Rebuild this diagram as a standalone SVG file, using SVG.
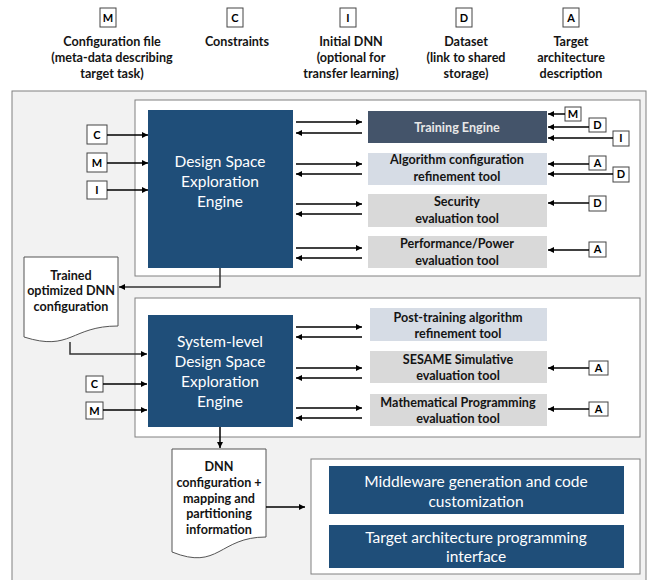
<svg xmlns="http://www.w3.org/2000/svg" width="648" height="580" viewBox="0 0 648 580">
<defs>
<marker id="ah" viewBox="0 0 10 10" refX="10" refY="5" markerWidth="7" markerHeight="6" markerUnits="userSpaceOnUse" orient="auto"><path d="M0,0 L10,5 L0,10 Z" fill="#000"/></marker>
</defs>
<style>
.t{font-family:Lato,"Open Sans",sans-serif;font-weight:bold;font-size:12.6px;fill:#141414;text-anchor:middle}
.k{font-family:Lato,"Open Sans",sans-serif;font-weight:bold;font-size:11px;fill:#000;text-anchor:middle}
.w{font-family:Lato,"Open Sans",sans-serif;font-size:15.5px;fill:#fff;text-anchor:middle}
.lb{fill:#fff;stroke:#444;stroke-width:1}
.panel{fill:#fff;stroke:#808080;stroke-width:1}
.eng{fill:#1F4E79}
.lblue{fill:#D6DCE5}
.gray{fill:#D9D9D9}
.c{stroke:#000;stroke-width:1.5;fill:none;marker-end:url(#ah)}
.doc{fill:#fff;stroke:#555;stroke-width:1}
</style>
<rect width="648" height="580" fill="#fff"/>
<!-- legend -->
<g id="legend-M"><rect class="lb" x="100" y="8" width="16" height="19"/><text class="k" x="108" y="22">M</text>
<text class="t" x="112" y="46">Configuration file</text><text class="t" x="112" y="62">(meta-data describing</text><text class="t" x="112" y="78">target task)</text></g>
<g id="legend-C"><rect class="lb" x="227" y="8" width="16" height="19"/><text class="k" x="235" y="22">C</text>
<text class="t" x="237" y="46">Constraints</text></g>
<g id="legend-I"><rect class="lb" x="340" y="8" width="16" height="19"/><text class="k" x="348" y="22">I</text>
<text class="t" x="351" y="46">Initial DNN</text><text class="t" x="351" y="62">(optional for</text><text class="t" x="351" y="78">transfer learning)</text></g>
<g id="legend-D"><rect class="lb" x="456" y="8" width="16" height="19"/><text class="k" x="464" y="22">D</text>
<text class="t" x="466" y="46">Dataset</text><text class="t" x="466" y="62">(link to shared</text><text class="t" x="466" y="78">storage)</text></g>
<g id="legend-A"><rect class="lb" x="563" y="8" width="16" height="19"/><text class="k" x="571" y="22">A</text>
<text class="t" x="571" y="46">Target</text><text class="t" x="571" y="62">architecture</text><text class="t" x="571" y="78">description</text></g>
<!-- panels -->
<rect id="outer-panel" x="12" y="91" width="634" height="490" fill="#F2F2F2" stroke="#808080" stroke-width="1"/>
<rect id="upper-panel" class="panel" x="135" y="100" width="505" height="176"/>
<rect id="lower-panel" class="panel" x="135" y="298" width="505" height="139"/>
<rect id="bottom-panel" class="panel" x="311" y="459" width="329" height="115"/>
<!-- upper engine -->
<g id="dse"><rect class="eng" x="148" y="110" width="145" height="158"/>
<text class="w" x="220" y="167">Design Space</text><text class="w" x="220" y="187">Exploration</text><text class="w" x="220" y="207">Engine</text></g>
<g id="training"><rect x="368" y="111" width="179" height="32" fill="#44546A"/><text class="t" x="457" y="132" style="fill:#E8E8E8">Training Engine</text></g>
<g id="algo"><rect class="lblue" x="368" y="153" width="179" height="32"/><text class="t" x="457" y="164">Algorithm configuration</text><text class="t" x="457" y="181">refinement tool</text></g>
<g id="security"><rect class="gray" x="368" y="194" width="179" height="33"/><text class="t" x="457" y="206">Security</text><text class="t" x="457" y="223">evaluation tool</text></g>
<g id="perf"><rect class="gray" x="368" y="236" width="179" height="32"/><text class="t" x="457" y="248">Performance/Power</text><text class="t" x="457" y="265">evaluation tool</text></g>
<!-- upper inputs left -->
<g id="in-C1"><rect class="lb" x="87" y="125" width="20" height="19"/><text class="k" x="97" y="139">C</text></g>
<g id="in-M1"><rect class="lb" x="87" y="153" width="20" height="19"/><text class="k" x="97" y="167">M</text></g>
<g id="in-I1"><rect class="lb" x="87" y="181" width="20" height="18"/><text class="k" x="97" y="194">I</text></g>
<!-- upper inputs right -->
<g id="in-M2"><rect class="lb" x="565" y="107" width="16" height="14"/><text class="k" x="573" y="118">M</text></g>
<g id="in-D1"><rect class="lb" x="589" y="118" width="17" height="14"/><text class="k" x="597.5" y="129">D</text></g>
<g id="in-I2"><rect class="lb" x="613" y="131" width="16" height="15"/><text class="k" x="621" y="142">I</text></g>
<g id="in-A1"><rect class="lb" x="589" y="156" width="17" height="14"/><text class="k" x="597.5" y="167">A</text></g>
<g id="in-D2"><rect class="lb" x="613" y="167" width="16" height="15"/><text class="k" x="621" y="178">D</text></g>
<g id="in-D3"><rect class="lb" x="589" y="196" width="17" height="15"/><text class="k" x="597.5" y="207">D</text></g>
<g id="in-A2"><rect class="lb" x="589" y="242" width="17" height="15"/><text class="k" x="597.5" y="253">A</text></g>
<!-- trained doc -->
<g id="trained"><path class="doc" d="M24,257 H118 V326 C71,326 71,352 24,337 Z"/>
<text class="t" x="71" y="280">Trained</text><text class="t" x="71" y="295">optimized DNN</text><text class="t" x="71" y="311">configuration</text></g>
<!-- lower engine -->
<g id="sdse"><rect class="eng" x="148" y="315" width="145" height="112"/>
<text class="w" x="220" y="347">System-level</text><text class="w" x="220" y="367">Design Space</text><text class="w" x="220" y="387">Exploration</text><text class="w" x="220" y="407">Engine</text></g>
<g id="post"><rect class="lblue" x="370" y="308" width="177" height="33"/><text class="t" x="458" y="322">Post-training algorithm</text><text class="t" x="458" y="338">refinement tool</text></g>
<g id="sesame"><rect class="gray" x="370" y="351" width="177" height="32"/><text class="t" x="458" y="364">SESAME Simulative</text><text class="t" x="458" y="380">evaluation tool</text></g>
<g id="math"><rect class="gray" x="370" y="394" width="177" height="32"/><text class="t" x="458" y="407">Mathematical Programming</text><text class="t" x="458" y="423">evaluation tool</text></g>
<g id="in-C3"><rect class="lb" x="86" y="376" width="17" height="16"/><text class="k" x="94.5" y="388">C</text></g>
<g id="in-M3"><rect class="lb" x="86" y="402" width="17" height="17"/><text class="k" x="94.5" y="415">M</text></g>
<g id="in-A3"><rect class="lb" x="589" y="361" width="19" height="14"/><text class="k" x="598.5" y="372">A</text></g>
<g id="in-A4"><rect class="lb" x="589" y="402" width="19" height="14"/><text class="k" x="598.5" y="413">A</text></g>
<!-- doc2 -->
<g id="dnnconf"><path class="doc" d="M172,449 H266 V537 C219,537 219,571 172,552 Z"/>
<text class="t" x="219" y="471">DNN</text><text class="t" x="219" y="487">configuration +</text><text class="t" x="219" y="503">mapping and</text><text class="t" x="219" y="518">partitioning</text><text class="t" x="219" y="534">information</text></g>
<g id="middleware"><rect class="eng" x="329" y="466" width="295" height="48"/><text class="w" x="476" y="487">Middleware generation and code</text><text class="w" x="476" y="507">customization</text></g>
<g id="tapi"><rect class="eng" x="329" y="525" width="295" height="43"/><text class="w" x="476" y="543">Target architecture programming</text><text class="w" x="476" y="562">interface</text></g>
<!-- connectors -->
<g id="connectors">
<path class="c" d="M107,135 H148"/>
<path class="c" d="M107,163 H148"/>
<path class="c" d="M107,190 H148"/>
<path class="c" d="M296,122 H362"/><path class="c" d="M362,133 H296"/>
<path class="c" d="M296,164 H362"/><path class="c" d="M362,174 H296"/>
<path class="c" d="M296,204 H362"/><path class="c" d="M362,214 H296"/>
<path class="c" d="M296,248 H362"/><path class="c" d="M362,258 H296"/>
<path class="c" d="M565,114 H548"/>
<path class="c" d="M589,127 H548"/>
<path class="c" d="M613,138 H548"/>
<path class="c" d="M589,164 H548"/>
<path class="c" d="M613,174 H548"/>
<path class="c" d="M589,203 H548"/>
<path class="c" d="M589,250 H548"/>
<path class="c" d="M220,268 V287 H119" style="stroke:#333"/>
<path class="c" d="M70,342 V354 H147" style="stroke:#333"/>
<path class="c" d="M103,384 H147"/>
<path class="c" d="M103,410 H147"/>
<path class="c" d="M296,327 H362"/><path class="c" d="M362,337 H296"/>
<path class="c" d="M296,368 H362"/><path class="c" d="M362,378 H296"/>
<path class="c" d="M296,408 H362"/><path class="c" d="M362,418 H296"/>
<path class="c" d="M589,368 H548"/>
<path class="c" d="M589,409 H548"/>
<path class="c" d="M220,427 V448"/>
<path class="c" d="M266,507 H305"/>
</g>
</svg>
